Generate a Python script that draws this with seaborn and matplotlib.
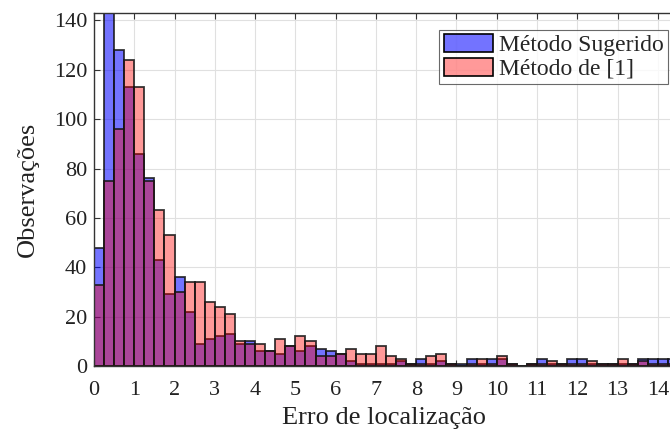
import matplotlib
matplotlib.use("Agg")
import matplotlib.pyplot as plt
import numpy as np
import pandas as pd
import seaborn as sns
from matplotlib.patches import Patch

# bin edges: 0.25 wide, from 0 to 14.5
bin_width = 0.25
n_bins = 58

# counts per bin
sugerido = [48, 143, 128, 113, 86, 76, 43, 29, 36, 22, 9, 11, 12, 13, 9, 10,
            6, 6, 5, 8, 6, 8, 7, 6, 5, 2, 1, 1, 1, 1, 2, 1, 3, 1, 2, 1,
            1, 3, 1, 3, 3, 1, 0, 1, 3, 1, 1, 3, 3, 1, 1, 1, 1, 1, 3, 3, 3, 3]
metodo_ref = [33, 75, 96, 124, 113, 75, 63, 53, 30, 34, 34, 26, 24, 21, 10, 9,
              9, 6, 11, 8, 12, 10, 4, 4, 5, 7, 5, 5, 8, 4, 3, 1, 1, 4, 5, 1,
              0, 1, 3, 1, 4, 1, 0, 1, 1, 2, 1, 1, 1, 2, 1, 1, 3, 1, 2, 1, 1, 1]

labels = ["Método Sugerido", "Método de [1]"]
x_ticks = list(range(0, 15))
y_ticks = list(range(0, 141, 20))

edges = np.arange(n_bins + 1) * bin_width
centers = edges[:-1] + bin_width / 2

sns.set_style("white")
plt.rcParams["font.family"] = ["Liberation Serif", "DejaVu Serif"]

fig = plt.figure(figsize=(6.7, 4.32), dpi=100)
ax = fig.add_axes([94 / 670, 1 - 366 / 432, (674 - 94) / 670, (366 - 13) / 432])

blue = (0.0, 0.0, 1.0, 0.55)
red = (1.0, 0.0, 0.0, 0.4)

for counts, color in [(sugerido, blue), (metodo_ref, red)]:
    df = pd.DataFrame({"erro": centers, "n": counts})
    n_prev = len(ax.patches)
    sns.histplot(data=df, x="erro", weights="n", bins=list(edges), ax=ax,
                 stat="count", color=color[:3], alpha=color[3])
    for p in ax.patches[n_prev:]:
        p.set_alpha(None)
        p.set_facecolor(color)
        p.set_edgecolor((0.08, 0.08, 0.08, 0.85))
        p.set_linewidth(1.3)

ax.set_xlim(0, 14.4)
ax.set_ylim(0, 143)
ax.set_xticks(x_ticks)
ax.set_yticks(y_ticks)
ax.grid(True, color="#e0e0e0", linewidth=0.8)
ax.set_axisbelow(True)
ax.tick_params(direction="in", length=4, top=True, right=False, bottom=True,
               left=True, labelsize=16, color="#333333", labelcolor="#222222")
ax.tick_params(axis="x", pad=11)
ax.tick_params(axis="y", pad=5)
for s in ax.spines.values():
    s.set_color("#333333")
    s.set_linewidth(1.0)

ax.set_xlabel("Erro de localização", fontsize=19, labelpad=5, color="#222222")
ax.set_ylabel("Observações", fontsize=19, labelpad=11, color="#222222")

handles = [Patch(facecolor=blue, edgecolor="k", linewidth=1.2),
           Patch(facecolor=red, edgecolor="k", linewidth=1.2)]
leg = ax.legend(handles, labels, loc="upper right", bbox_to_anchor=(0.9897, 0.952),
                fontsize=17, frameon=True, fancybox=False, handlelength=2.1,
                handleheight=0.8, handletextpad=0.25, borderpad=0.18,
                labelspacing=0.05, borderaxespad=0.0)
leg.get_frame().set_edgecolor("#444444")
leg.get_frame().set_linewidth(0.8)

fig.savefig("out.png", dpi=100)
